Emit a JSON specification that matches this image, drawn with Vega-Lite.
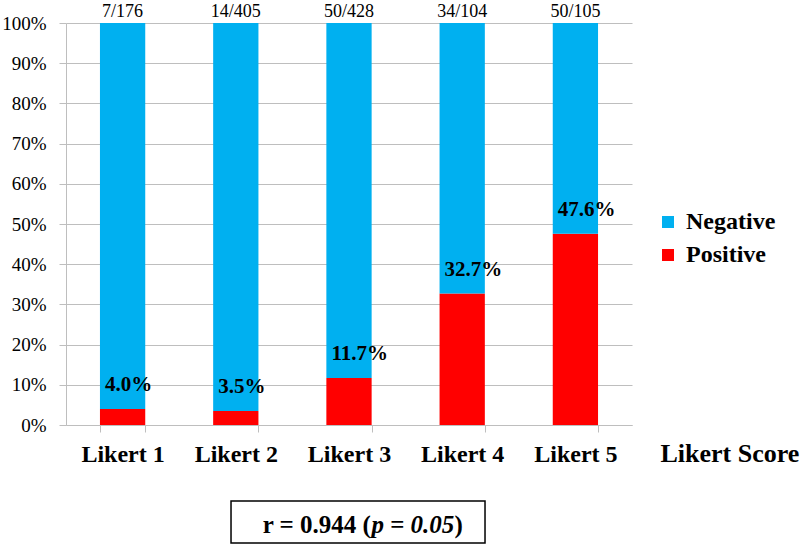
{
  "$schema": "https://vega.github.io/schema/vega-lite/v6.json",
  "width": 566,
  "height": 402,
  "autosize": {"type": "none"},
  "padding": {"left": 66, "top": 23, "right": 168, "bottom": 119},
  "background": "white",
  "config": {
    "view": {"stroke": null},
    "font": "Liberation Serif",
    "axisX": {
      "titleX": 594, "titleY": 36, "titleAlign": "left", "titleAnchor": null,
      "titleBaseline": "alphabetic", "titleFontSize": 26, "titleFontWeight": "bold",
      "titleFont": "Liberation Serif", "titleColor": "black",
      "labelAngle": 0, "labelFont": "Liberation Serif", "labelFontSize": 24, "labelFontWeight": "bold",
      "labelColor": "black", "labelBaseline": "alphabetic", "labelPadding": 29, "labelOverlap": false,
      "tickBand": "extent", "tickSize": 7, "tickColor": "#BEBEBE", "domainColor": "#BEBEBE", "grid": false
    },
    "axisY": {
      "labelFont": "Liberation Serif", "labelFontSize": 19, "labelColor": "black",
      "labelPadding": 13, "tickSize": 7, "tickColor": "#BEBEBE", "domainColor": "#BEBEBE",
      "grid": true, "gridColor": "#BEBEBE"
    }
  },
  "datasets": {
    "bars": [
      {"score": "Likert 1", "outcome": "Positive", "share": 0.040},
      {"score": "Likert 1", "outcome": "Negative", "share": 0.960},
      {"score": "Likert 2", "outcome": "Positive", "share": 0.035},
      {"score": "Likert 2", "outcome": "Negative", "share": 0.965},
      {"score": "Likert 3", "outcome": "Positive", "share": 0.117},
      {"score": "Likert 3", "outcome": "Negative", "share": 0.883},
      {"score": "Likert 4", "outcome": "Positive", "share": 0.327},
      {"score": "Likert 4", "outcome": "Negative", "share": 0.673},
      {"score": "Likert 5", "outcome": "Positive", "share": 0.476},
      {"score": "Likert 5", "outcome": "Negative", "share": 0.524}
    ],
    "totals": [
      {"score": "Likert 1", "ratio": "7/176"},
      {"score": "Likert 2", "ratio": "14/405"},
      {"score": "Likert 3", "ratio": "50/428"},
      {"score": "Likert 4", "ratio": "34/104"},
      {"score": "Likert 5", "ratio": "50/105"}
    ],
    "stat": [
      {"score": "Likert 3", "lead": "r = 0.944 (", "pSym": "p", "eq": "=", "pVal": "0.05", "close": ")"}
    ]
  },
  "layer": [
    {
      "data": {"name": "bars"},
      "mark": {"type": "bar", "strokeWidth": 0},
      "encoding": {
        "x": {
          "field": "score", "type": "nominal", "title": "Likert Score",
          "scale": {"paddingInner": 0.6, "paddingOuter": 0.3}
        },
        "y": {
          "field": "share", "type": "quantitative", "stack": "zero", "title": null,
          "scale": {"domain": [0, 1], "nice": false},
          "axis": {"values": [0, 0.1, 0.2, 0.3, 0.4, 0.5, 0.6, 0.7, 0.8, 0.9, 1], "format": ".0%"}
        },
        "color": {
          "field": "outcome", "type": "nominal",
          "scale": {"domain": ["Negative", "Positive"], "range": ["#00B0F0", "#FF0000"]},
          "legend": {
            "title": null, "orient": "none", "legendX": 590, "legendY": 187,
            "symbolType": "square", "symbolSize": 144, "symbolStrokeWidth": 0,
            "labelFont": "Liberation Serif", "labelFontSize": 24, "labelFontWeight": "bold",
            "labelColor": "black", "labelOffset": 6, "rowPadding": 9, "padding": 0
          }
        },
        "order": {"field": "outcome", "type": "nominal", "sort": "descending"}
      }
    },
    {
      "data": {"name": "bars"},
      "transform": [{"filter": "datum.outcome === 'Positive'"}],
      "mark": {"type": "text", "align": "left", "baseline": "alphabetic", "dx": -17.6, "dy": -18,
               "font": "Liberation Serif", "fontSize": 21, "fontWeight": "bold", "color": "black"},
      "encoding": {
        "x": {"field": "score", "type": "nominal", "title": "Likert Score"},
        "y": {"field": "share", "type": "quantitative", "title": null},
        "text": {"field": "share", "format": ".1%"}
      }
    },
    {
      "data": {"name": "totals"},
      "mark": {"type": "text", "align": "center", "baseline": "alphabetic", "dy": -6,
               "font": "Liberation Serif", "fontSize": 18, "color": "black"},
      "encoding": {
        "x": {"field": "score", "type": "nominal", "title": "Likert Score"},
        "y": {"datum": 1, "type": "quantitative", "title": null},
        "text": {"field": "ratio"}
      }
    },
    {
      "data": {"name": "stat"},
      "mark": {"type": "point", "shape": "M-0.929,-0.165H1.071V0.165H-0.929Z", "size": 64516,
               "filled": false, "stroke": "black", "strokeWidth": 1.5, "opacity": 1},
      "encoding": {
        "x": {"field": "score", "type": "nominal", "title": "Likert Score"},
        "y": {"datum": -0.2413, "type": "quantitative", "title": null}
      }
    },
    {
      "data": {"name": "stat"},
      "mark": {"type": "text", "align": "left", "baseline": "alphabetic", "dx": -86.3, "dy": 11,
               "font": "Liberation Serif", "fontSize": 25, "fontWeight": "bold", "color": "black"},
      "encoding": {
        "x": {"field": "score", "type": "nominal", "title": "Likert Score"},
        "y": {"datum": -0.2413, "type": "quantitative", "title": null},
        "text": {"field": "lead"}
      }
    },
    {
      "data": {"name": "stat"},
      "mark": {"type": "text", "align": "left", "baseline": "alphabetic", "dx": 22.4, "dy": 11,
               "font": "Liberation Serif", "fontSize": 25, "fontWeight": "bold", "fontStyle": "italic", "color": "black"},
      "encoding": {
        "x": {"field": "score", "type": "nominal", "title": "Likert Score"},
        "y": {"datum": -0.2413, "type": "quantitative", "title": null},
        "text": {"field": "pSym"}
      }
    },
    {
      "data": {"name": "stat"},
      "mark": {"type": "text", "align": "left", "baseline": "alphabetic", "dx": 41.2, "dy": 11,
               "font": "Liberation Serif", "fontSize": 25, "fontWeight": "bold", "color": "black"},
      "encoding": {
        "x": {"field": "score", "type": "nominal", "title": "Likert Score"},
        "y": {"datum": -0.2413, "type": "quantitative", "title": null},
        "text": {"field": "eq"}
      }
    },
    {
      "data": {"name": "stat"},
      "mark": {"type": "text", "align": "left", "baseline": "alphabetic", "dx": 61.6, "dy": 11,
               "font": "Liberation Serif", "fontSize": 25, "fontWeight": "bold", "fontStyle": "italic", "color": "black"},
      "encoding": {
        "x": {"field": "score", "type": "nominal", "title": "Likert Score"},
        "y": {"datum": -0.2413, "type": "quantitative", "title": null},
        "text": {"field": "pVal"}
      }
    },
    {
      "data": {"name": "stat"},
      "mark": {"type": "text", "align": "left", "baseline": "alphabetic", "dx": 105.4, "dy": 11,
               "font": "Liberation Serif", "fontSize": 25, "fontWeight": "bold", "color": "black"},
      "encoding": {
        "x": {"field": "score", "type": "nominal", "title": "Likert Score"},
        "y": {"datum": -0.2413, "type": "quantitative", "title": null},
        "text": {"field": "close"}
      }
    }
  ]
}
